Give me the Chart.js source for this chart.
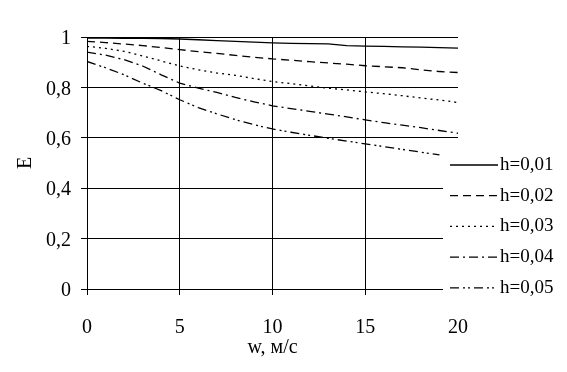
<!DOCTYPE html>
<html>
<head>
<meta charset="utf-8">
<script src="https://cdn.jsdelivr.net/npm/chart.js@4.4.1/dist/chart.umd.min.js"></script>
<style>
    html, body { margin: 0; padding: 0; background: #fff; }
    #wrap { width: 567px; height: 372px; }
</style>
</head>
<body>
<div id="wrap"><canvas id="effChart" width="567" height="372"></canvas></div>
<script>
// w, m/s
const wValues = [0, 1, 2, 3, 4, 5, 6, 7, 8, 9, 10, 11, 12, 13, 14, 15, 16, 17, 18, 19, 20];

const e001 = [0.996, 0.996, 0.995, 0.995, 0.994, 0.992, 0.989, 0.986, 0.983, 0.980, 0.977, 0.975, 0.974, 0.973, 0.966, 0.964, 0.963, 0.961, 0.960, 0.958, 0.956];
const e002 = [0.983, 0.978, 0.972, 0.966, 0.958, 0.950, 0.942, 0.935, 0.927, 0.920, 0.913, 0.908, 0.902, 0.897, 0.892, 0.886, 0.882, 0.878, 0.870, 0.863, 0.859];
const e003 = [0.963, 0.955, 0.943, 0.925, 0.905, 0.885, 0.870, 0.857, 0.848, 0.835, 0.823, 0.815, 0.806, 0.797, 0.790, 0.782, 0.775, 0.767, 0.758, 0.750, 0.740];
const e004 = [0.940, 0.928, 0.910, 0.885, 0.850, 0.817, 0.797, 0.780, 0.760, 0.743, 0.727, 0.716, 0.705, 0.694, 0.683, 0.671, 0.660, 0.650, 0.640, 0.629, 0.618];
const e005 = [0.903, 0.878, 0.850, 0.817, 0.787, 0.751, 0.720, 0.695, 0.672, 0.652, 0.635, 0.622, 0.610, 0.598, 0.587, 0.576, 0.565, 0.554, 0.543, 0.532];

const seriesLabels = ["h=0,01", "h=0,02", "h=0,03", "h=0,04", "h=0,05"];
const yTickLabels = ["0", "0,2", "0,4", "0,6", "0,8", "1"];

const serif = "'Liberation Serif', 'Times New Roman', serif";

function toPoints(arr) {
    return arr.map((v, i) => ({ x: wValues[i], y: v }));
}

const dashes = [[], [8, 5], [2, 4], [9, 4, 2, 4], [9, 4, 2, 3, 2, 4]];
const allSeries = [e001, e002, e003, e004, e005];

const datasets = allSeries.map((s, i) => ({
    label: seriesLabels[i],
    data: toPoints(s),
    borderColor: "#000",
    borderWidth: 1.3,
    borderDash: dashes[i],
    pointRadius: 0,
    tension: 0,
    fill: false
}));

// legend sits over the right edge of the plot, like the original
const boxLegend = {
    id: "boxLegend",
    afterDraw(chart) {
        const c = chart.ctx;
        c.save();
        c.fillStyle = "#fff";
        c.fillRect(443, 146, 124, 154);
        c.font = "19px " + serif;
        c.textBaseline = "middle";
        c.fillStyle = "#000";
        chart.data.datasets.forEach((ds, i) => {
            const y = 165 + i * 30.7;
            c.strokeStyle = "#000";
            c.lineWidth = 1.3;
            c.setLineDash(ds.borderDash);
            c.beginPath();
            c.moveTo(450, y);
            c.lineTo(498, y);
            c.stroke();
            c.setLineDash([]);
            c.fillText(ds.label, 500, y);
        });
        c.restore();
    }
};

new Chart(document.getElementById("effChart"), {
    type: "line",
    data: { datasets: datasets },
    options: {
        responsive: false,
        animation: false,
        layout: { padding: { left: 10, right: 109, top: 37, bottom: 0 } },
        plugins: {
            legend: { display: false },
            tooltip: { enabled: false }
        },
        scales: {
            x: {
                type: "linear",
                min: 0,
                max: 20,
                ticks: {
                    stepSize: 5,
                    padding: 21,
                    color: "#000",
                    font: { family: serif, size: 20 },
                    maxRotation: 0
                },
                grid: {
                    color: (ctx) => (ctx.tick && ctx.tick.value === 20 ? "rgba(0,0,0,0)" : "#000"),
                    lineWidth: 1,
                    tickLength: 6,
                    tickColor: "#000"
                },
                border: { color: "#000", width: 1 },
                title: {
                    display: true,
                    text: "w, м/с",
                    color: "#000",
                    font: { family: serif, size: 20 },
                    padding: { top: 0, bottom: 12 }
                },
                afterFit(scale) { scale.height = 83; }
            },
            y: {
                min: 0,
                max: 1,
                ticks: {
                    stepSize: 0.2,
                    padding: 10,
                    labelOffset: 2,
                    color: "#000",
                    font: { family: serif, size: 20 },
                    callback: (v, i) => yTickLabels[i]
                },
                grid: {
                    color: "#000",
                    lineWidth: 1,
                    tickLength: 6
                },
                border: { color: "#000", width: 1 },
                title: {
                    display: true,
                    text: "E",
                    color: "#000",
                    font: { family: serif, size: 20 },
                    padding: { top: 4, bottom: 0 }
                },
                afterFit(scale) { scale.width = 77; }
            }
        }
    },
    plugins: [boxLegend]
});
</script>
</body>
</html>
